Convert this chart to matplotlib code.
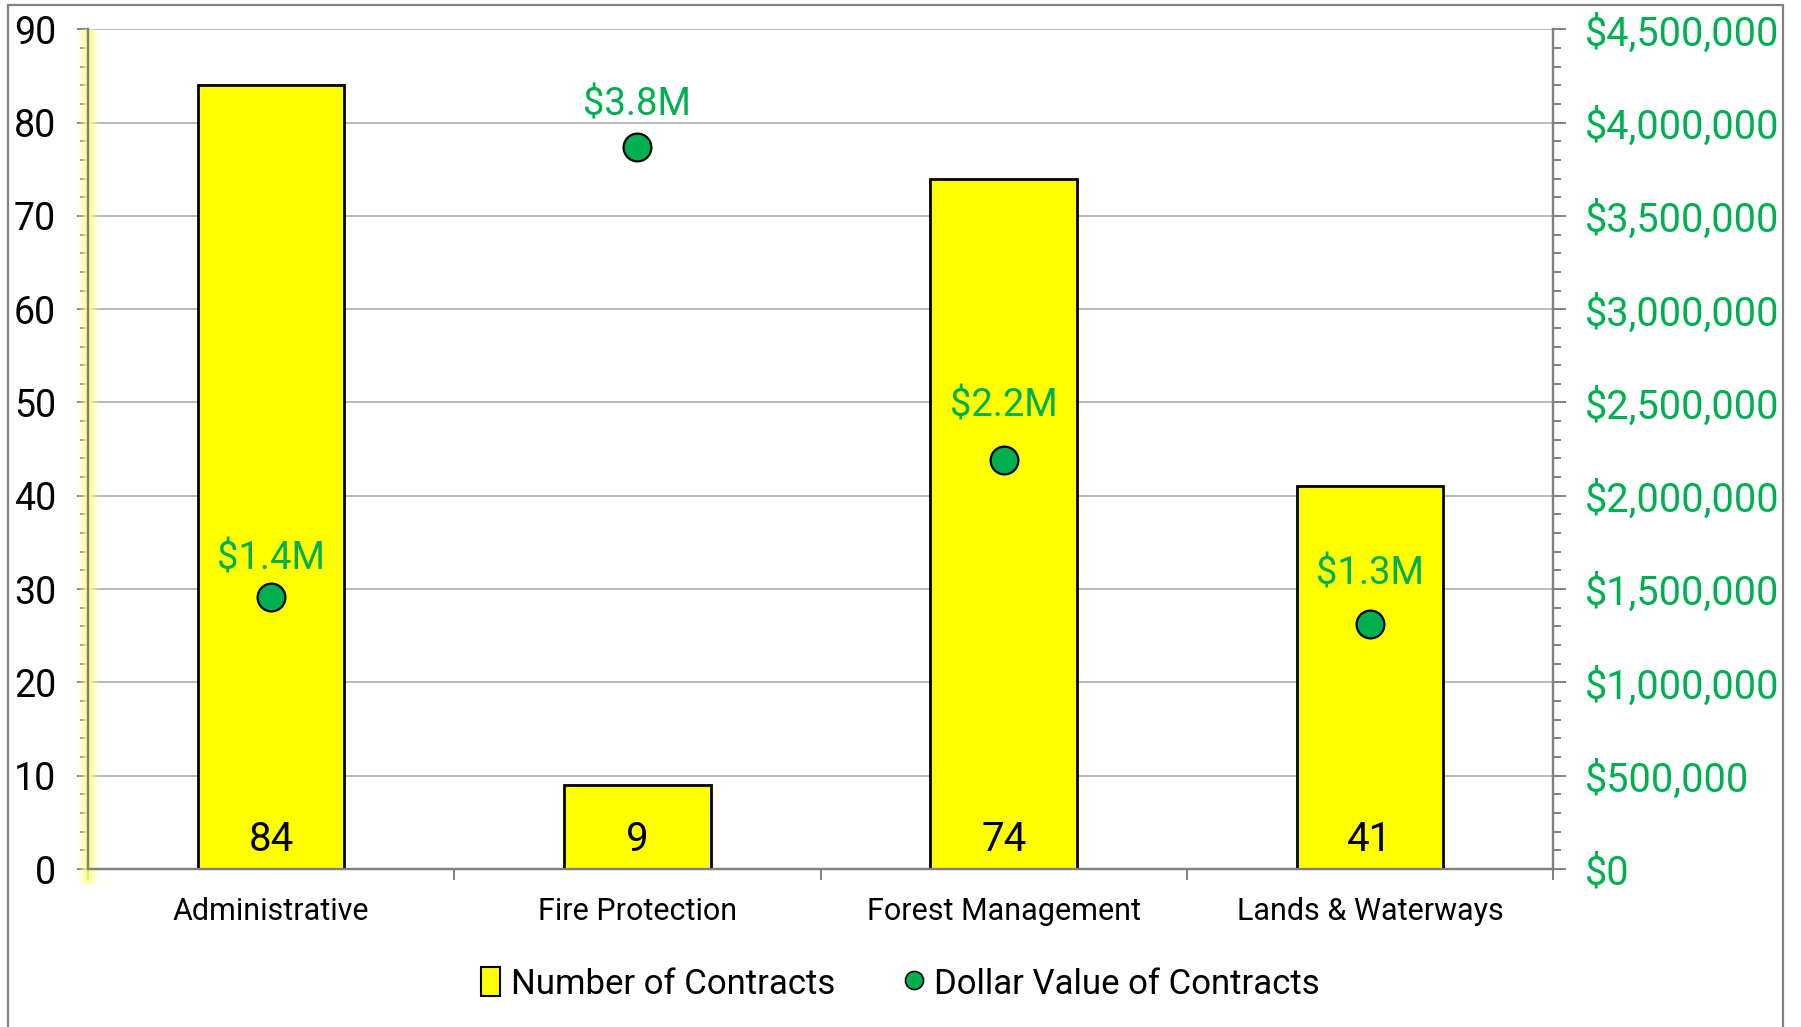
import matplotlib.pyplot as plt
from matplotlib.lines import Line2D
from matplotlib.patches import Patch, Rectangle
from matplotlib.ticker import FuncFormatter, MultipleLocator

plt.rcParams["font.family"] = ["Roboto", "DejaVu Sans"]

categories = ["Administrative", "Fire Protection", "Forest Management", "Lands & Waterways"]
contracts = [84, 9, 74, 41]
dollars = [1459000, 3869000, 2191000, 1312000]
dollar_labels = ["$1.4M", "$3.8M", "$2.2M", "$1.3M"]

yellow = "#FFFF00"
green = "#00B050"
axis_gray = "#808080"
grid_gray = "#B3B3B3"
label_lift = [27, 30, 39, 36]  # points above each dot

fig = plt.figure(figsize=(18.01, 10.27), dpi=100)
ax = fig.add_axes([88 / 1801, 1 - 869 / 1027, (1553 - 88) / 1801, (869 - 29.3) / 1027])
ax2 = ax.twinx()

x = list(range(len(categories)))

# bars (left axis)
ax.bar(x, contracts, width=0.4, color=yellow, edgecolor="black", linewidth=2, zorder=3)
for xi, v in zip(x, contracts):
    ax.annotate(str(v), xy=(xi, 0), xytext=(0, 21), textcoords="offset points",
                ha="center", va="center", fontsize=29, color="black", zorder=5)

ax.set_xlim(-0.5, len(categories) - 0.5)
ax.set_ylim(0, 90)
ax.yaxis.set_major_locator(MultipleLocator(10))
ax.yaxis.set_minor_locator(MultipleLocator(2))
ax.grid(axis="y", color=grid_gray, linewidth=1.3, zorder=0)
ax.set_axisbelow(True)

# category boundaries as ticks, names as minor labels
ax.set_xticks([i - 0.5 for i in range(len(categories) + 1)])
ax.set_xticklabels([])
ax.set_xticks(x, minor=True)
ax.set_xticklabels(categories, minor=True, fontsize=22)
ax.tick_params(axis="x", which="major", length=8, width=1.4, color=axis_gray, direction="out")
ax.tick_params(axis="x", which="minor", length=0, pad=20)

ax.tick_params(axis="y", which="major", length=8, width=1.4, color=axis_gray, labelsize=27, pad=15)
ax.tick_params(axis="y", which="minor", length=6, width=1.4, color=axis_gray)

ax.spines["top"].set_visible(False)
ax2.spines["top"].set_visible(False)
for s in ["left", "right", "bottom"]:
    ax.spines[s].set_color(axis_gray)
    ax.spines[s].set_linewidth(1.6)
    ax2.spines[s].set_color(axis_gray)
    ax2.spines[s].set_linewidth(1.6)

# soft yellow glow along the left axis
for lw, a in [(14, 0.25), (9, 0.4), (5, 0.6)]:
    ax.add_line(Line2D([-0.5, -0.5], [-1.5, 90], color="#FFFF80", linewidth=lw, alpha=a,
                       clip_on=False, zorder=1, solid_capstyle="butt"))

# dots (right axis)
ax2.scatter(x, dollars, s=20 ** 2, color=green, edgecolor="black", linewidth=1.6, zorder=4)
for xi, v, lab, lift in zip(x, dollars, dollar_labels, label_lift):
    ax2.annotate(lab, xy=(xi, v), xytext=(0, lift), textcoords="offset points",
                 ha="center", va="center", fontsize=27.5, color=green)

ax2.set_ylim(0, 4500000)
ax2.yaxis.set_major_locator(MultipleLocator(500000))
ax2.yaxis.set_minor_locator(MultipleLocator(100000))
ax2.yaxis.set_major_formatter(FuncFormatter(lambda v, p: f"${v:,.0f}"))
ax2.tick_params(axis="y", which="major", length=9, width=1.4, color=axis_gray,
                labelsize=28.5, labelcolor=green, pad=14)
ax2.tick_params(axis="y", which="minor", length=6, width=1.4, color=axis_gray)

handles = [
    Patch(facecolor=yellow, edgecolor="black", linewidth=1.5, label="Number of Contracts"),
    Line2D([], [], marker="o", linestyle="none", markersize=13, markerfacecolor=green,
           markeredgecolor="black", markeredgewidth=1.2, label="Dollar Value of Contracts"),
]
fig.legend(handles=handles, loc="center", bbox_to_anchor=(0.5, 1 - 984 / 1027), ncol=2,
           frameon=False, fontsize=25, handlelength=0.55, handleheight=0.9, handletextpad=0.3,
           columnspacing=2.0)

# outer chart border
fig.patches.append(Rectangle((8 / 1801, -0.01), (1783 - 8) / 1801, 1.01 - 5 / 1027,
                             transform=fig.transFigure, fill=False, edgecolor=axis_gray,
                             linewidth=1.6))

fig.savefig("out.png", dpi=100)
